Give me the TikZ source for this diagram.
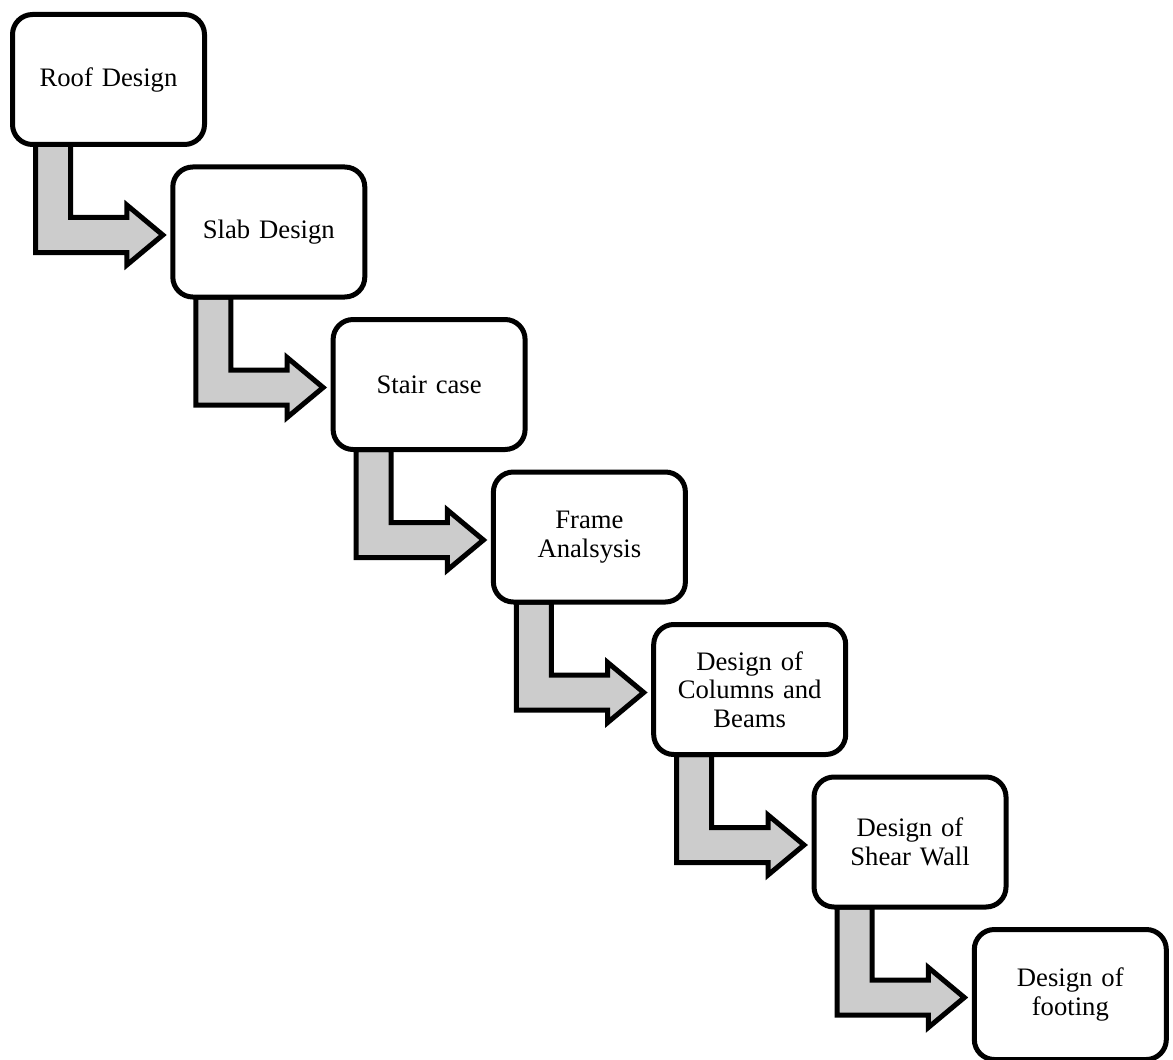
\documentclass[tikz,border=0pt]{standalone}
\usepackage{fontspec}
\setmainfont{Liberation Serif}
\usetikzlibrary{calc}
\usetikzlibrary{backgrounds}

% bent block arrow from the bottom of one box to the left side of the next
\newcommand{\downright}[2]{%
\draw[bendarrow] ($(#1.south)+(-73,0)$) -- ($(#1.south)+(-38,0)$)
  |- ($(#2.west)+(-46,-14.5)$) -- ++(0,-12.5) -- ($(#2.west)+(-10,3)$)
  -- ($(#2.west)+(-46,33)$) -- ++(0,-12.5) -| ($(#1.south)+(-73,0)$) -- cycle;
}

\begin{document}
\begin{tikzpicture}[x=0.75pt,y=-0.75pt,
 stepbox/.style={draw, line width=3.75pt, rounded corners=15pt, fill=white, outer sep=0pt,
   minimum width=144pt, minimum height=97.5pt, text width=132pt, inner sep=0pt,
   align=center, font=\fontsize{20}{21.5}\selectfont},
 bendarrow/.style={line width=3.75pt, fill=black!20, line join=miter}]
\useasboundingbox (0,0) rectangle (1173,1059);
\foreach \txt [count=\i] in {Roof Design, Slab Design, Stair case, {Frame\\Analsysis},
  {Design of\\Columns and\\Beams}, {Design of\\Shear Wall}, {Design of\\footing}}
 \node[stepbox] (s\i) at ({108.5+160.3*(\i-1)},{79.5+152.5*(\i-1)}) {\txt};
\begin{scope}[on background layer]
\foreach \i [evaluate=\i as \j using int(\i+1)] in {1,...,6}
 \downright{s\i}{s\j};
\end{scope}
\end{tikzpicture}
\end{document}
